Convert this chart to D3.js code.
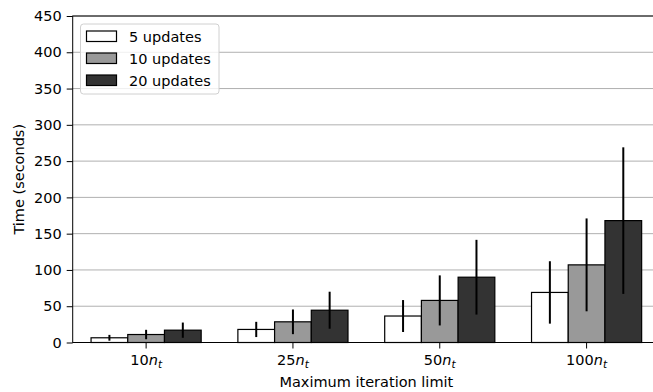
<!DOCTYPE html>
<html>
<head>
<meta charset="utf-8">
<script src="https://cdn.jsdelivr.net/npm/d3@7"></script>
<style>
  body { margin: 0; background: #fff; }
  text { font-family: "DejaVu Sans", sans-serif; }
</style>
</head>
<body>
<div id="chart"></div>
<script>
// categories along x: multiplier of n_t
const limits = ['10', '25', '50', '100'];
const series = ['5 updates', '10 updates', '20 updates'];
const colors = ['#ffffff', '#999999', '#333333'];
// mean time per series, one entry per limit
const means5 = [6.5, 18, 36.5, 69];
const means10 = [11, 28.5, 58, 107];
const means20 = [17, 44.5, 90, 168];
// error bar half-lengths
const err5 = [4, 10.5, 22, 43];
const err10 = [6.5, 17, 34.5, 64];
const err20 = [10.5, 25.5, 51.5, 101];
const yTicks = [0, 50, 100, 150, 200, 250, 300, 350, 400, 450];

const means = [means5, means10, means20];
const errs = [err5, err10, err20];

const W = 653, H = 392;
const m = { left: 72.7, right: 660, top: 16, bottom: 342.5 };
const fs = 14.5;

const svg = d3.select('#chart').append('svg')
  .attr('width', W).attr('height', H);

const x = d3.scaleBand().domain(limits).range([m.left, m.right]).paddingInner(0).paddingOuter(0);
const xs = d3.scaleBand().domain(series).range([x.bandwidth() * 0.125, x.bandwidth() * 0.875]);
const y = d3.scaleLinear().domain([0, 450]).range([m.bottom, m.top]);

// grid
svg.append('g').selectAll('line').data(yTicks.slice(1)).join('line')
  .attr('x1', m.left).attr('x2', m.right)
  .attr('y1', d => y(d)).attr('y2', d => y(d))
  .attr('stroke', '#b0b0b0').attr('stroke-width', 1);

// bars
const rows = [];
series.forEach((s, si) => limits.forEach((l, li) => {
  rows.push({ s, si, l, v: means[si][li], e: errs[si][li] });
}));

svg.append('g').selectAll('rect').data(rows).join('rect')
  .attr('x', d => x(d.l) + xs(d.s))
  .attr('y', d => y(d.v))
  .attr('width', xs.bandwidth())
  .attr('height', d => y(0) - y(d.v))
  .attr('fill', d => colors[d.si])
  .attr('stroke', '#000').attr('stroke-width', 1.2);

svg.append('g').selectAll('line').data(rows).join('line')
  .attr('x1', d => x(d.l) + xs(d.s) + xs.bandwidth() / 2)
  .attr('x2', d => x(d.l) + xs(d.s) + xs.bandwidth() / 2)
  .attr('y1', d => y(d.v - d.e)).attr('y2', d => y(d.v + d.e))
  .attr('stroke', '#000').attr('stroke-width', 2);

// axes
const yAxis = svg.append('g').attr('transform', `translate(${m.left},0)`)
  .call(d3.axisLeft(y).tickValues(yTicks).tickSize(6).tickPadding(5));
yAxis.selectAll('text').attr('font-size', fs).attr('fill', '#000').attr('font-family', 'DejaVu Sans');
yAxis.select('.domain').remove();

const xAxis = svg.append('g').attr('transform', `translate(0,${m.bottom})`)
  .call(d3.axisBottom(x).tickSize(6).tickFormat(''));
xAxis.select('.domain').remove();
xAxis.selectAll('.tick').append('text')
  .attr('y', 22.5).attr('text-anchor', 'middle').attr('font-size', fs).attr('fill', '#000')
  .attr('font-family', 'DejaVu Sans')
  .each(function(d) {
    const t = d3.select(this);
    t.append('tspan').text(d);
    t.append('tspan').attr('font-style', 'italic').text('n');
    t.append('tspan').attr('font-style', 'italic').attr('font-size', 10.5).attr('dy', 3).text('t');
  });

// spines
svg.append('rect').attr('x', m.left).attr('y', m.top)
  .attr('width', m.right - m.left).attr('height', m.bottom - m.top)
  .attr('fill', 'none').attr('stroke', '#000').attr('stroke-width', 1);

// labels
svg.append('text').attr('x', (m.left + m.right) / 2).attr('y', 387)
  .attr('text-anchor', 'middle').attr('font-size', fs).text('Maximum iteration limit');
svg.append('text')
  .attr('transform', `translate(23.5,${(m.top + m.bottom) / 2}) rotate(-90)`)
  .attr('text-anchor', 'middle').attr('font-size', fs).text('Time (seconds)');

// legend
const lg = svg.append('g').attr('transform', 'translate(80.5,24)');
lg.append('rect').attr('width', 138.5).attr('height', 70).attr('rx', 3)
  .attr('fill', '#fff').attr('fill-opacity', 0.8).attr('stroke', '#d0d0d0');
series.forEach((s, i) => {
  const g = lg.append('g').attr('transform', `translate(6,${7 + i * 22})`);
  g.append('rect').attr('width', 30).attr('height', 10.5)
    .attr('fill', colors[i]).attr('stroke', '#000').attr('stroke-width', 1.2);
  g.append('text').attr('x', 42.5).attr('y', 10.5).attr('font-size', fs).text(s);
});
</script>
</body>
</html>
